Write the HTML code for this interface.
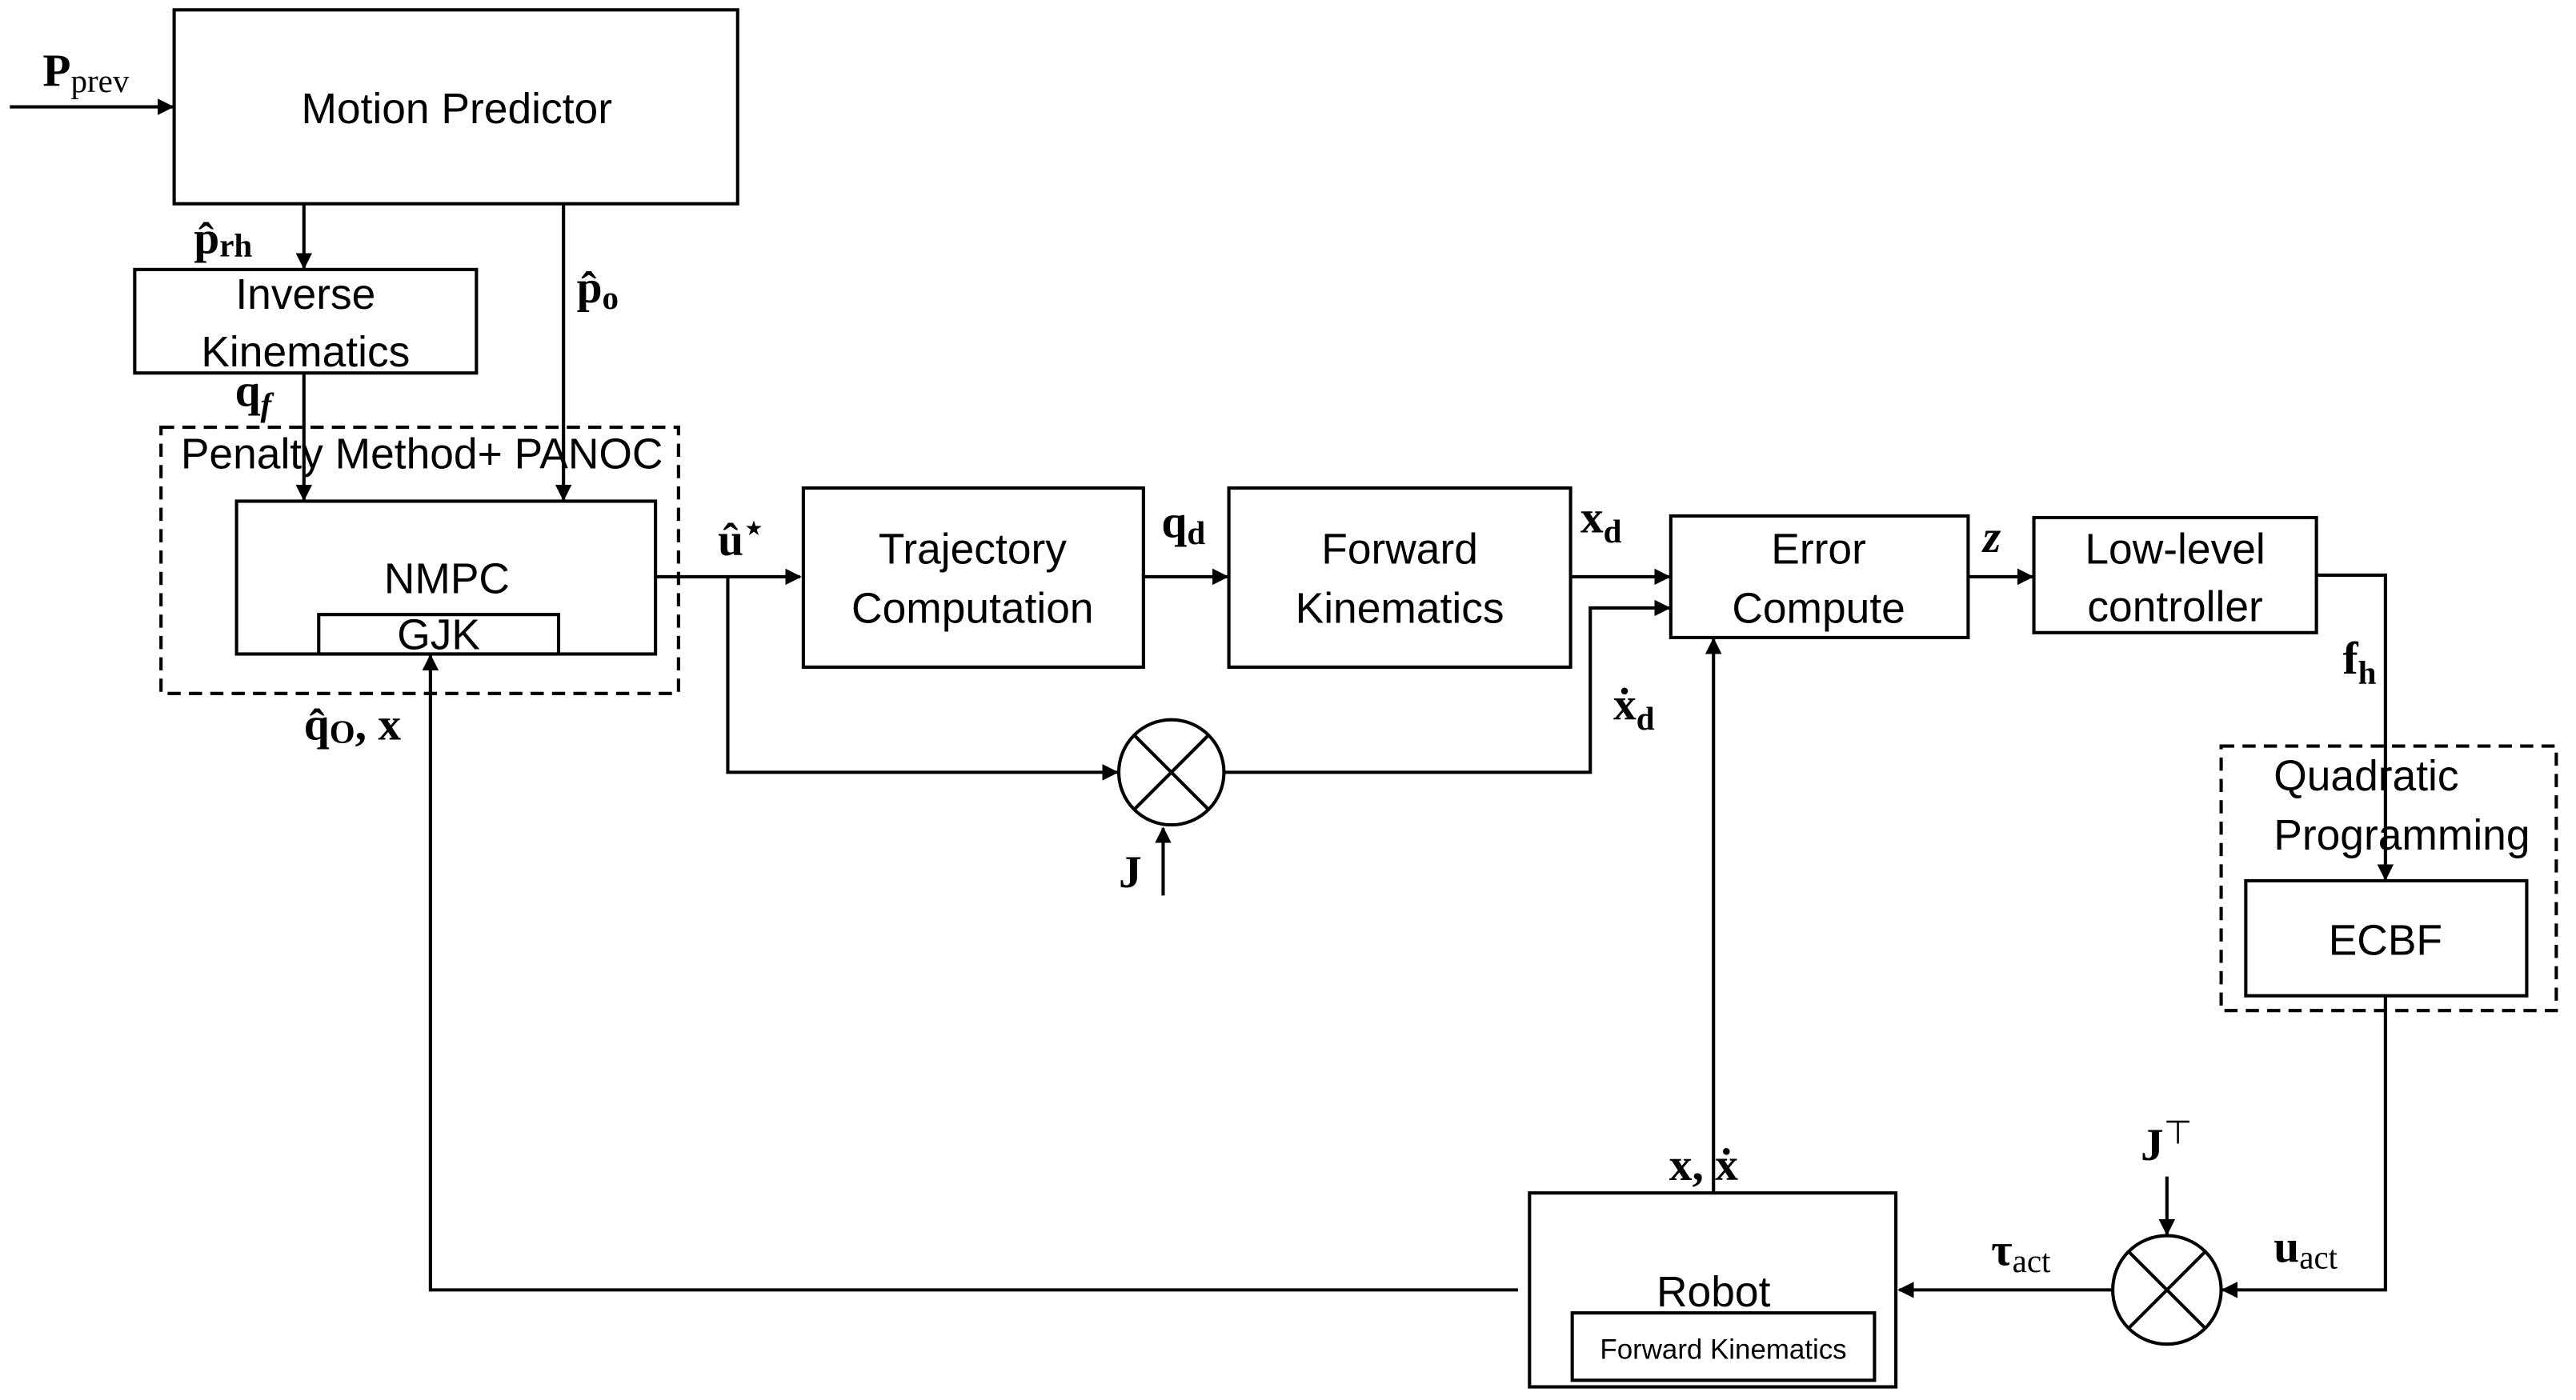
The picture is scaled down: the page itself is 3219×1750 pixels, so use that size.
<!DOCTYPE html>
<html><head><meta charset="utf-8"><style>
html,body{margin:0;padding:0;background:#fff}
svg{display:block}
.b{font-family:"Liberation Sans",sans-serif;font-size:26px;fill:#000;text-anchor:middle}
.m{font-family:"Liberation Serif",serif;font-weight:bold;font-size:28px;fill:#000}
.s{font-size:20px;font-weight:bold}
</style></head><body>
<svg width="3219" height="1750" viewBox="0 0 1568 852" preserveAspectRatio="none" xmlns="http://www.w3.org/2000/svg">
<defs><marker id="a" markerWidth="10" markerHeight="10" refX="9" refY="5" orient="auto" markerUnits="userSpaceOnUse"><path d="M0,0 L10,5 L0,10 z" fill="#000"/></marker></defs>
<g fill="none" stroke="#000" stroke-width="2">
<rect x="106" y="6" width="343" height="118"/>
<rect x="82" y="164" width="208" height="63"/>
<rect x="98" y="260" width="315" height="162" stroke-dasharray="8,5"/>
<rect x="144" y="305" width="255" height="93"/>
<rect x="194" y="374" width="146" height="24"/>
<rect x="489" y="297" width="207" height="109"/>
<rect x="748" y="297" width="208" height="109"/>
<rect x="1017" y="314" width="181" height="74"/>
<rect x="1238" y="315" width="172" height="70"/>
<rect x="1352" y="454" width="204" height="161" stroke-dasharray="8,5"/>
<rect x="1367" y="536" width="171" height="70"/>
<rect x="931" y="726" width="223" height="118"/>
<rect x="957" y="799" width="184" height="41"/>
<circle cx="713" cy="470" r="32"/>
<path d="M690,447 L736,493 M736,447 L690,493"/>
<circle cx="1319" cy="785" r="33"/>
<path d="M1296,762 L1342,808 M1342,762 L1296,808"/>
<path d="M6,65 L105,65" marker-end="url(#a)"/>
<path d="M185,124 L185,163" marker-end="url(#a)"/>
<path d="M343,124 L343,304" marker-end="url(#a)"/>
<path d="M185,227 L185,304" marker-end="url(#a)"/>
<path d="M924,785 L262,785 L262,399" marker-end="url(#a)"/>
<path d="M399,351 L487,351" marker-end="url(#a)"/>
<path d="M443,351 L443,470 L680,470" marker-end="url(#a)"/>
<path d="M708,545 L708,504" marker-end="url(#a)"/>
<path d="M745,470 L968,470 L968,370 L1016,370" marker-end="url(#a)"/>
<path d="M696,351 L747,351" marker-end="url(#a)"/>
<path d="M956,351 L1016,351" marker-end="url(#a)"/>
<path d="M1198,351 L1237,351" marker-end="url(#a)"/>
<path d="M1410,350 L1452,350 L1452,535" marker-end="url(#a)"/>
<path d="M1452,606 L1452,785 L1353,785" marker-end="url(#a)"/>
<path d="M1319,716 L1319,751" marker-end="url(#a)"/>
<path d="M1286,785 L1156,785" marker-end="url(#a)"/>
<path d="M1043,726 L1043,389" marker-end="url(#a)"/>
</g>
<text class="b" x="278" y="75">Motion Predictor</text>
<text class="b" x="186" y="188">Inverse</text>
<text class="b" x="186" y="223">Kinematics</text>
<text class="b" x="110" y="285" style="text-anchor:start">Penalty Method+ PANOC</text>
<text class="b" x="272" y="361">NMPC</text>
<text class="b" x="267" y="395">GJK</text>
<text class="b" x="592" y="343">Trajectory</text>
<text class="b" x="592" y="379">Computation</text>
<text class="b" x="852" y="343">Forward</text>
<text class="b" x="852" y="379">Kinematics</text>
<text class="b" x="1107" y="343">Error</text>
<text class="b" x="1107" y="379">Compute</text>
<text class="b" x="1324" y="343">Low-level</text>
<text class="b" x="1324" y="378">controller</text>
<text class="b" x="1384" y="481" style="text-anchor:start">Quadratic</text>
<text class="b" x="1384" y="517" style="text-anchor:start">Programming</text>
<text class="b" x="1452" y="581">ECBF</text>
<text class="b" x="1043" y="795">Robot</text>
<text class="b" x="1049" y="827" style="font-size:17px">Forward Kinematics</text>
<text class="m" x="26" y="52">P<tspan class="s" style="font-weight:normal" dy="4">prev</tspan></text>
<text class="m" x="118" y="154">p̂<tspan class="s" dy="2">rh</tspan></text>
<text class="m" x="351" y="184">p̂<tspan class="s" dy="4">o</tspan></text>
<text class="m" x="143" y="247">q<tspan class="s" dy="6" font-style="italic">f</tspan></text>
<text class="m" x="185" y="450">q̂<tspan class="s" dy="2">O</tspan><tspan dy="-2">, x</tspan></text>
<text class="m" x="437" y="338">û<tspan class="s" dy="-10">⋆</tspan></text>
<text class="m" x="707" y="327">q<tspan class="s" dy="4">d</tspan></text>
<text class="m" x="962" y="324">x<tspan class="s" dy="6">d</tspan></text>
<text class="m" x="982" y="438">ẋ<tspan class="s" dy="6">d</tspan></text>
<text class="m" x="681" y="540">J</text>
<text class="m" x="1207" y="336" font-style="italic">z</text>
<text class="m" x="1426" y="410">f<tspan class="s" dy="6">h</tspan></text>
<text class="m" x="1303" y="706">J<tspan class="s" dy="-10" style="font-weight:normal">⊤</tspan></text>
<text class="m" x="1384" y="768">u<tspan class="s" dy="4" style="font-weight:normal">act</tspan></text>
<text class="m" x="1212" y="770">τ<tspan class="s" dy="4" style="font-weight:normal">act</tspan></text>
<text class="m" x="1016" y="718">x, ẋ</text>
</svg>
</body></html>
